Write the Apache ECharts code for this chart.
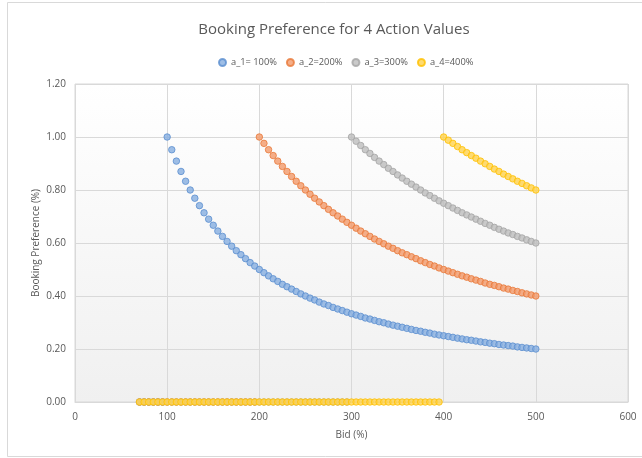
<!DOCTYPE html>
<html><head><meta charset="utf-8">
<script src="https://cdn.jsdelivr.net/npm/echarts@6/dist/echarts.min.js"></script>
<style>html,body{margin:0;padding:0;background:#fff}#c{width:642px;height:458px}</style>
</head><body><div id="c"></div>
<script>
var title = 'Booking Preference for 4 Action Values';
var seriesNames = ['a_1= 100%', 'a_2=200%', 'a_3=300%', 'a_4=400%'];
var xTicks = [0, 100, 200, 300, 400, 500, 600];
var yTicks = [0, 0.2, 0.4, 0.6, 0.8, 1.0, 1.2];
var bids = [70,75,80,85,90,95,100,105,110,115,120,125,130,135,140,145,150,155,160,165,170,175,180,185,190,195,
  200,205,210,215,220,225,230,235,240,245,250,255,260,265,270,275,280,285,290,295,
  300,305,310,315,320,325,330,335,340,345,350,355,360,365,370,375,380,385,390,395,
  400,405,410,415,420,425,430,435,440,445,450,455,460,465,470,475,480,485,490,495,500];
var a1 = [0,0,0,0,0,0,
  1.000,0.952,0.909,0.870,0.833,0.800,0.769,0.741,0.714,0.690,0.667,0.645,0.625,0.606,0.588,0.571,0.556,0.541,0.526,0.513,
  0.500,0.488,0.476,0.465,0.455,0.444,0.435,0.426,0.417,0.408,0.400,0.392,0.385,0.377,0.370,0.364,0.357,0.351,0.345,0.339,
  0.333,0.328,0.323,0.317,0.313,0.308,0.303,0.299,0.294,0.290,0.286,0.282,0.278,0.274,0.270,0.267,0.263,0.260,0.256,0.253,
  0.250,0.247,0.244,0.241,0.238,0.235,0.233,0.230,0.227,0.225,0.222,0.220,0.217,0.215,0.213,0.211,0.208,0.206,0.204,0.202,0.200];
var a2 = [0,0,0,0,0,0,0,0,0,0,0,0,0,0,0,0,0,0,0,0,0,0,0,0,0,0,
  1.000,0.976,0.952,0.930,0.909,0.889,0.870,0.851,0.833,0.816,0.800,0.784,0.769,0.755,0.741,0.727,0.714,0.702,0.690,0.678,
  0.667,0.656,0.645,0.635,0.625,0.615,0.606,0.597,0.588,0.580,0.571,0.563,0.556,0.548,0.541,0.533,0.526,0.519,0.513,0.506,
  0.500,0.494,0.488,0.482,0.476,0.471,0.465,0.460,0.455,0.449,0.444,0.440,0.435,0.430,0.426,0.421,0.417,0.412,0.408,0.404,0.400];
var a3 = [0,0,0,0,0,0,0,0,0,0,0,0,0,0,0,0,0,0,0,0,0,0,0,0,0,0,
  0,0,0,0,0,0,0,0,0,0,0,0,0,0,0,0,0,0,0,0,
  1.000,0.984,0.968,0.952,0.938,0.923,0.909,0.896,0.882,0.870,0.857,0.845,0.833,0.822,0.811,0.800,0.789,0.779,0.769,0.759,
  0.750,0.741,0.732,0.723,0.714,0.706,0.698,0.690,0.682,0.674,0.667,0.659,0.652,0.645,0.638,0.632,0.625,0.619,0.612,0.606,0.600];
var a4 = [0,0,0,0,0,0,0,0,0,0,0,0,0,0,0,0,0,0,0,0,0,0,0,0,0,0,
  0,0,0,0,0,0,0,0,0,0,0,0,0,0,0,0,0,0,0,0,
  0,0,0,0,0,0,0,0,0,0,0,0,0,0,0,0,0,0,0,0,
  1.000,0.988,0.976,0.964,0.952,0.941,0.930,0.920,0.909,0.899,0.889,0.879,0.870,0.860,0.851,0.842,0.833,0.825,0.816,0.808,0.800];

var values = [a1, a2, a3, a4];
var fills = ['#86aee0', '#f29a6a', '#bdbdbd', '#ffd24d'];
var borders = ['#5b8fd0', '#e8793a', '#a5a5a5', '#ffc000'];
var FONT = 'Open Sans';

var chart = echarts.init(document.getElementById('c'), null, {renderer: 'canvas'});
chart.setOption({
  animation: false,
  backgroundColor: '#fff',
  textStyle: {fontFamily: FONT},
  graphic: [{type: 'rect', shape: {x: 7.5, y: 2.5, width: 650, height: 454}, style: {fill: 'none', stroke: '#d9d9d9', lineWidth: 1}, z: -10, silent: true}],
  title: {text: title, left: 329, top: 17, textAlign: 'center',
    textStyle: {color: '#595959', fontSize: 15, fontWeight: 'normal', fontFamily: FONT}},
  legend: {top: 53, left: 213, icon: 'circle', itemWidth: 7, itemHeight: 7, itemGap: 9,
    textStyle: {color: '#595959', fontSize: 9.3, fontFamily: FONT},
    data: seriesNames},
  grid: {left: 75, right: 14, top: 84, bottom: 56, show: true, borderColor: '#d9d9d9', borderWidth: 1,
    backgroundColor: new echarts.graphic.LinearGradient(0, 0, 0, 1, [{offset: 0, color: '#ffffff'}, {offset: 1, color: '#f0f0f0'}])},
  xAxis: {type: 'value', min: xTicks[0], max: xTicks[xTicks.length - 1], interval: 100,
    name: 'Bid (%)', nameLocation: 'middle', nameGap: 28,
    nameTextStyle: {color: '#595959', fontSize: 10, fontFamily: FONT},
    axisLine: {show: true, lineStyle: {color: '#d9d9d9'}}, axisTick: {show: false},
    axisLabel: {color: '#595959', fontSize: 10, margin: 10, fontFamily: FONT},
    splitLine: {show: true, lineStyle: {color: '#d9d9d9'}}},
  yAxis: {type: 'value', min: yTicks[0], max: yTicks[yTicks.length - 1], interval: 0.2,
    name: 'Booking Preference (%)', nameLocation: 'middle', nameGap: 34, nameMoveOverlap: false,
    nameTextStyle: {color: '#595959', fontSize: 10, fontFamily: FONT},
    axisLine: {show: false}, axisTick: {show: false},
    axisLabel: {color: '#595959', fontSize: 10, margin: 9, fontFamily: FONT, formatter: function (v) { return v.toFixed(2); }},
    splitLine: {show: true, lineStyle: {color: '#d9d9d9'}}},
  series: values.map(function (arr, i) {
    return {
      name: seriesNames[i], type: 'scatter', symbol: 'circle', symbolSize: 6.5,
      itemStyle: {color: fills[i], borderColor: borders[i], borderWidth: 1},
      data: bids.map(function (b, j) { return [b, arr[j]]; }),
      z: 2 + i
    };
  })
});
</script></body></html>
